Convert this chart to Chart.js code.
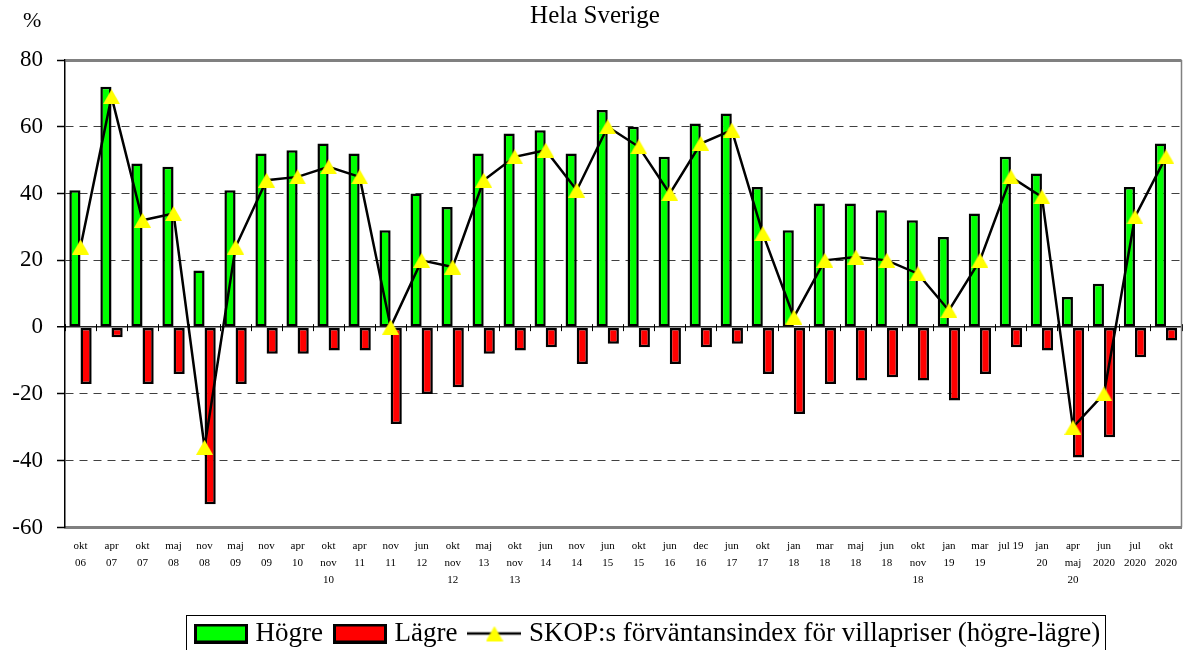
<!DOCTYPE html>
<html>
<head>
<meta charset="utf-8">
<script src="https://cdn.jsdelivr.net/npm/chart.js@4"></script>
<style>
html,body{margin:0;padding:0;background:#ffffff;}
#wrap{width:1192px;height:650px;overflow:hidden;}
</style>
</head>
<body>
<div id="wrap"><canvas id="c" width="1192" height="650"></canvas></div>
<script>
// ---- data ----
const categories = [
  ["okt","06"],["apr","07"],["okt","07"],["maj","08"],["nov","08"],["maj","09"],
  ["nov","09"],["apr","10"],["okt","nov","10"],["apr","11"],["nov","11"],["jun","12"],
  ["okt","nov","12"],["maj","13"],["okt","nov","13"],["jun","14"],["nov","14"],["jun","15"],
  ["okt","15"],["jun","16"],["dec","16"],["jun","17"],["okt","17"],["jan","18"],
  ["mar","18"],["maj","18"],["jun","18"],["okt","nov","18"],["jan","19"],["mar","19"],
  ["jul 19"],["jan","20"],["apr","maj","20"],["jun","2020"],["jul","2020"],["okt","2020"]
];
const hogre = [41,72,49,48,17,41,52,53,55,52,29,40,36,52,58,59,52,65,60,51,61,64,42,29,37,37,35,32,27,34,51,46,9,13,42,55];
const lagre = [-17,-3,-17,-14,-53,-17,-8,-8,-7,-7,-29,-20,-18,-8,-7,-6,-11,-5,-6,-11,-6,-5,-14,-26,-17,-16,-15,-16,-22,-14,-6,-7,-39,-33,-9,-4];
const forvIndex = [24,69,32,34,-36,24,44,45,48,45,0,20,18,44,51,53,41,60,54,40,55,59,28,3,20,21,20,16,5,20,45,39,-30,-20,33,51];
const seriesNames = ["Högre","Lägre","SKOP:s förväntansindex för villapriser (högre-lägre)"];
const chartTitle = "Hela Sverige";
const unitLabel = "%";
const yMin = -60, yMax = 80, yStep = 20;

// ---- styling helpers ----
const SERIF = "'Liberation Serif', 'Times New Roman', serif";
const GREEN = "#00FF00", RED = "#FF0000", YELLOW = "#FFFF00";

function triangleImg(w, h) {
  const c = document.createElement('canvas');
  c.width = w; c.height = h;
  const g = c.getContext('2d');
  g.fillStyle = YELLOW;
  g.beginPath(); g.moveTo(w / 2, 0); g.lineTo(w, h); g.lineTo(0, h); g.closePath(); g.fill();
  return c;
}
function boxImg(fill) {
  const c = document.createElement('canvas');
  c.width = 54; c.height = 20;
  const g = c.getContext('2d');
  g.fillStyle = fill; g.fillRect(0, 0, 54, 20);
  g.strokeStyle = '#000'; g.lineWidth = 3; g.strokeRect(1.5, 1.5, 51, 17);
  return c;
}
function lineImg() {
  const c = document.createElement('canvas');
  c.width = 54; c.height = 20;
  const g = c.getContext('2d');
  g.strokeStyle = '#000'; g.lineWidth = 2.5;
  g.beginPath(); g.moveTo(0, 10); g.lineTo(54, 10); g.stroke();
  g.drawImage(triangleImg(17, 15), 18.5, 2.5);
  return c;
}
const triPoint = triangleImg(17, 15);
const legendIcons = [boxImg(GREEN), boxImg(RED), lineImg()];

const decor = {
  id: 'decor',
  afterLayout(chart) {
    const lg = chart.legend;
    if (!lg) return;
    const pad = lg.options.labels.padding;
    const w = lg.width, h = lg.height;
    lg.left = 200 - pad; lg.right = lg.left + w;
    lg.top = 620 - pad; lg.bottom = lg.top + h;
  },
  beforeDatasetsDraw(chart) {
    const xs = chart.scales.x, ys = chart.scales.y, ctx = chart.ctx;
    const y0 = ys.getPixelForValue(0);
    ctx.save();
    ctx.strokeStyle = '#000'; ctx.lineWidth = 1;
    for (let i = 0; i <= categories.length; i++) {
      const x = Math.round(xs.getPixelForValue(i - 0.5)) + 0.5;
      ctx.beginPath(); ctx.moveTo(x, y0 - 3); ctx.lineTo(x, y0 + 4); ctx.stroke();
    }
    ctx.restore();
  },
  afterDraw(chart) {
    const ctx = chart.ctx, a = chart.chartArea;
    ctx.save();
    // right plot border
    ctx.strokeStyle = '#808080'; ctx.lineWidth = 1.5;
    ctx.beginPath(); ctx.moveTo(a.right, a.top); ctx.lineTo(a.right, a.bottom); ctx.stroke();
    // unit label
    ctx.fillStyle = '#000'; ctx.font = "22px " + SERIF;
    ctx.textAlign = 'left'; ctx.textBaseline = 'middle';
    ctx.fillText(unitLabel, 23, 21);
    // legend frame
    const lg = chart.legend;
    if (lg && lg.legendHitBoxes && lg.legendHitBoxes.length) {
      const hb = lg.legendHitBoxes;
      const l = hb[0].left - 14;
      const last = hb[hb.length - 1];
      const r = last.left + last.width + 5;
      const t = hb[0].top - 5;
      ctx.strokeStyle = '#000'; ctx.lineWidth = 1;
      ctx.strokeRect(Math.round(l) + 0.5, Math.round(t) + 0.5, Math.round(r - l), 60);
    }
    ctx.restore();
  }
};

new Chart(document.getElementById('c'), {
  type: 'bar',
  data: {
    labels: categories,
    datasets: [
      { label: seriesNames[0], data: hogre, backgroundColor: GREEN, borderColor: '#000', borderWidth: 2.5, borderSkipped: false, order: 1 },
      { label: seriesNames[1], data: lagre, backgroundColor: RED, borderColor: '#000', borderWidth: 2.5, borderSkipped: false, order: 2 },
      { type: 'line', label: seriesNames[2], data: forvIndex, borderColor: '#000', borderWidth: 2.5,
        backgroundColor: YELLOW, pointStyle: triPoint, pointRadius: 8, pointHoverRadius: 8, tension: 0, order: 0 }
    ]
  },
  options: {
    responsive: false,
    animation: false,
    categoryPercentage: 0.72,
    barPercentage: 1.0,
    layout: { padding: { left: 0, right: 2, top: 0, bottom: 0 } },
    plugins: {
      title: {
        display: true, text: chartTitle, color: '#000',
        font: { family: SERIF, size: 25, weight: 'normal' },
        padding: { top: 1, bottom: 29 }
      },
      legend: {
        display: true, position: 'bottom', align: 'start',
        labels: {
          color: '#000', font: { family: SERIF, size: 27 },
          usePointStyle: true, pointStyleWidth: 42, padding: 16,
          generateLabels(chart) {
            return chart.data.datasets.map((ds, i) => ({
              text: ds.label, pointStyle: legendIcons[i], fillStyle: 'transparent',
              strokeStyle: 'transparent', lineWidth: 0, hidden: !chart.isDatasetVisible(i),
              datasetIndex: i, fontColor: '#000'
            }));
          }
        }
      },
      tooltip: { enabled: false }
    },
    scales: {
      x: {
        ticks: { autoSkip: false, maxRotation: 0, minRotation: 0, color: '#000', padding: 10,
                 font: { family: SERIF, size: 11, lineHeight: 1.55 } },
        grid: { display: true, drawOnChartArea: false, drawTicks: false },
        border: { display: true, color: '#808080', width: 3 },
        afterFit(s) {
          const lh = s.chart.legend ? s.chart.legend.height : 0;
          s.height = Math.max(20, 650 - 527.5 - lh);
        }
      },
      y: {
        min: yMin, max: yMax,
        ticks: { stepSize: yStep, color: '#000', padding: 14, font: { family: SERIF, size: 23 } },
        grid: {
          color: c => { const v = c.tick ? c.tick.value : null;
            if (v === yMax) return '#808080'; if (v === yMin) return 'rgba(0,0,0,0)';
            if (v === 0) return '#222'; return '#404040'; },
          lineWidth: c => { const v = c.tick ? c.tick.value : null;
            if (v === yMax) return 3; if (v === 0) return 1.5; return 1; },
          tickLength: 8, tickColor: '#000', tickWidth: 1.5
        },
        border: {
          display: true, color: '#000', width: 1.5,
          dash: c => (c.tick && c.tick.value !== 0 && c.tick.value !== yMax && c.tick.value !== yMin) ? [8, 6] : []
        },
        afterFit(s) { s.width = 65; }
      }
    }
  },
  plugins: [decor]
});
</script>
</body>
</html>
